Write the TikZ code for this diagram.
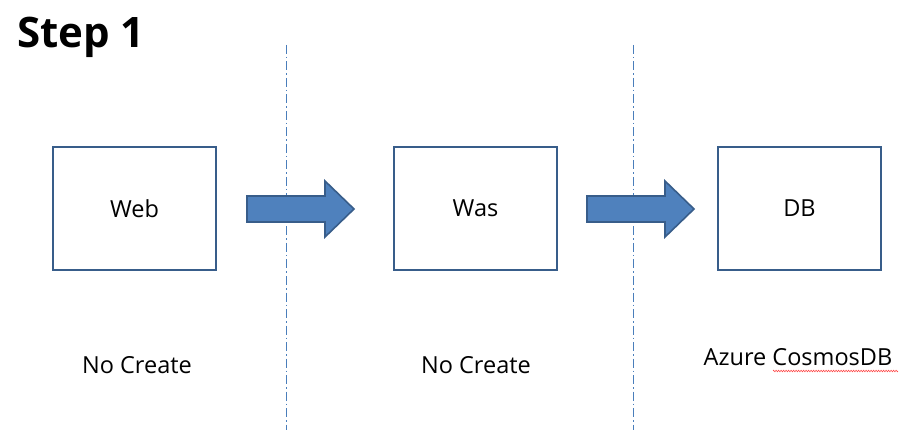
\documentclass[tikz,border=0pt]{standalone}
\usepackage{fontspec}
\setmainfont{Open Sans}
\usetikzlibrary{decorations.pathmorphing}
\definecolor{boxline}{HTML}{385D8A}
\definecolor{arrfill}{HTML}{4F81BD}
\definecolor{sepline}{HTML}{4A7EBB}
\begin{document}
\begin{tikzpicture}[x=1pt,y=-1pt,
  tier/.style={draw=boxline,line width=1.6pt,minimum width=163pt,minimum height=123pt,inner sep=0pt,font=\fontsize{23.5}{28}\selectfont},
  caption/.style={font=\fontsize{23.5}{28}\selectfont,inner sep=0pt},
  sep/.style={draw=sepline,line width=0.8pt,dash pattern=on 9pt off 3pt on 1.5pt off 3pt},
  blockarrow/.style={fill=arrfill,draw=boxline,line width=1.6pt,line join=miter}]
\useasboundingbox (0,0) rectangle (915,446);
\fill[white] (0,0) rectangle (915,446);
\node[anchor=base west,inner sep=0pt,font=\bfseries\fontsize{42}{50}\selectfont] (title) at (17,48) {Step 1};
\coordinate (s1t) at (286,45); \coordinate (s1b) at (286,430);
\coordinate (s2t) at (633,45); \coordinate (s2b) at (633,430);
\draw[sep] (s1t) -- (s1b);
\draw[sep] (s2t) -- (s2b);
\node[tier] (web) at (134.5,208.5) {Web};
\node[tier] (was) at (475.5,208.5) {Was};
\node[tier] (db) at (799.5,208.5) {DB};
\draw[blockarrow] (247,196) -- (325,196) -- (325,181) -- (354,209) -- (325,237) -- (325,222) -- (247,222) -- cycle;
\draw[blockarrow] (587,196) -- (665,196) -- (665,181) -- (694,209) -- (665,237) -- (665,222) -- (587,222) -- cycle;
\node[caption] (c1) at (137,365) {No Create};
\node[caption] (c2) at (476,365) {No Create};
\node[caption] (c3) at (798,357) {Azure CosmosDB};
\coordinate (w1) at (773,371); \coordinate (w2) at (898,371);
\draw[red!80,line width=0.5pt,decorate,decoration={zigzag,amplitude=0.8pt,segment length=2.5pt}] (w1) -- (w2);
\end{tikzpicture}
\end{document}
